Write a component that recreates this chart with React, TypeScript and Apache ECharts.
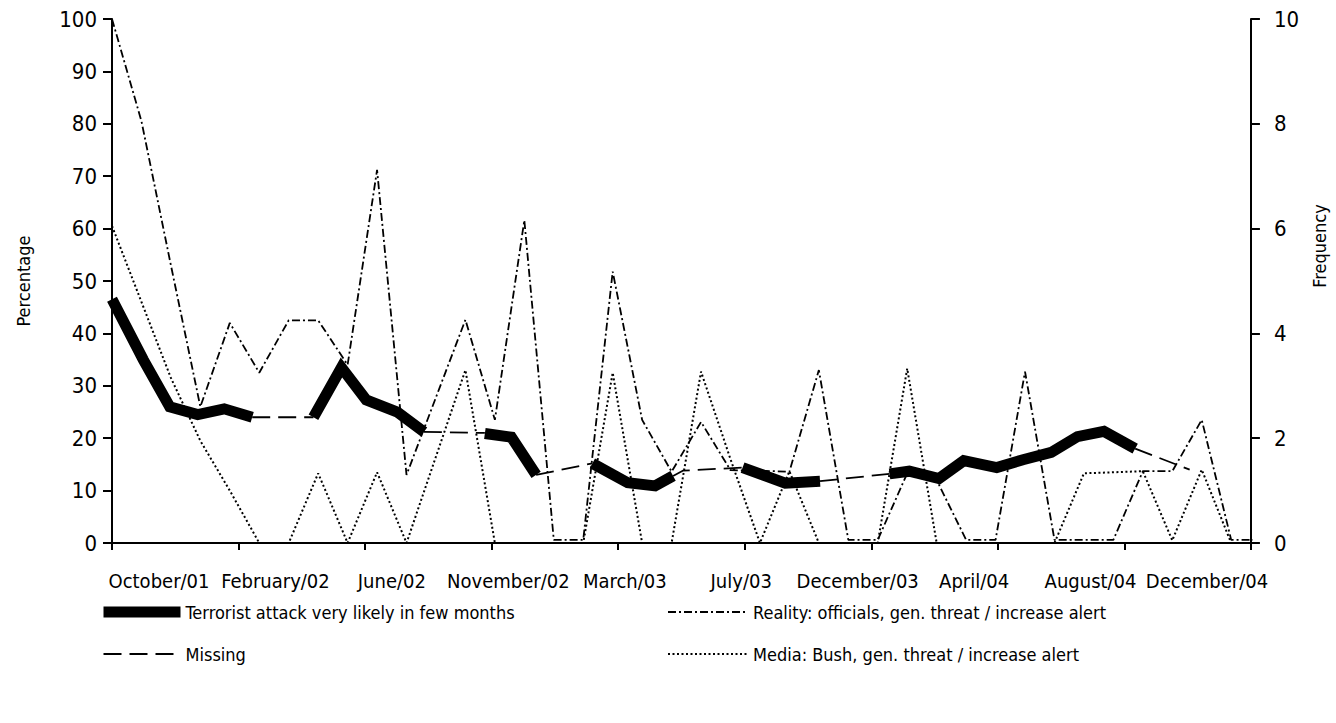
import React, { useEffect, useRef } from "react";
import * as echarts from "echarts";

// Category labels of the time axis
const xLabels = [
  "October/01", "February/02", "June/02", "November/02", "March/03",
  "July/03", "December/03", "April/04", "August/04", "December/04",
];

// Monthly frequencies (right axis); month index 0 = October 2001
const realityFreq = [
  10, 8.05, 5.3, 2.6, 4.2, 3.25, 4.25, 4.25, 3.4, 7.12,
  1.3, 2.78, 4.26, 2.35, 6.16, 0.06, 0.06, 5.18, 2.35, 1.36,
  2.31, 1.39, 1.38, 1.36, 3.3, 0.06, 0.06, 1.33, 1.2, 0.06,
  0.06, 3.27, 0.06, 0.06, 0.06, 1.37, 1.37, 2.35, 0.06, 0.06,
];
const mediaFreq = [
  6.05, 4.6, 3.15, 1.95, 1.0, 0, 0, 1.33, 0, 1.35,
  0, 1.65, 3.3, 0, 0, 0, 0, 3.25, 0, 0,
  3.27, 1.6, 0, 1.37, 0, 0, 0, 3.33, 0, 0,
  0, 0, 0, 1.33, 1.35, 1.37, 0.05, 1.4, 0, 0,
];

// Survey results (left axis); x = months since October 2001, null = no survey
const terroristMonths = [
  0, 1.06, 1.96, 2.91, 3.81, 4.76, 5.8, 6.84, 7.79, 8.63, 9.69, 10.59, 11.6,
  12.66, 13.56, 14.4, 15.3, 16.31, 17.51, 18.44, 19.05, 20.2, 21.41, 22.86,
  24.04, 25.2, 26.4, 27.07, 28.08, 28.92, 30.04, 30.93, 31.89, 32.78, 33.68, 34.74,
];
const terroristPct = [
  46.5, 35, 26, 24.5, 25.6, 24, null, 24, 33.5, 27.3, 25, 21.2, null,
  20.9, 20.2, 13, null, 15.2, 11.5, 10.9, 12.8, null, 14.4, 11.4,
  11.8, null, 13.2, 13.7, 12.3, 15.7, 14.4, 15.9, 17.3, 20.3, 21.3, 18.0,
];

// "Missing" bridges between surveys
const missingMonths = [
  4.76, 6.84, 8.0, 10.59, 12.66, 13.5, 14.4, 16.31, 17.5, 19.05, 19.38, 21.41,
  22.5, 24.04, 26.4, 30.0, 34.74, 36.59,
];
const missingPct = [
  24, 24, null, 21.2, 21.0, null, 13, 15.2, null, 12.8, 13.8, 14.4,
  null, 11.8, 13.2, null, 18.0, 14.0,
];

const X_MAX = 38.67;
const FONT =
  '"Liberation Sans Narrow", "Arial Narrow", "DejaVu Sans Condensed", "Liberation Sans", sans-serif';

const NAME_T = "Terrorist attack very likely in few months";
const NAME_M = "Missing";
const NAME_R = "Reality: officials, gen. threat / increase alert";
const NAME_B = "Media: Bush, gen. threat / increase alert";

export default function App() {
  const ref = useRef<HTMLDivElement>(null);

  useEffect(() => {
    if (!ref.current) return;
    const chart = echarts.init(ref.current, null, { renderer: "svg" });
    const axisLine = { show: true, lineStyle: { color: "#000", width: 2 } };
    const pair = (xs: number[], ys: (number | null)[]) =>
      xs.map((x, i) => [x, ys[i] === null ? "-" : ys[i]]);
    const legendBase = {
      top: 603,
      orient: "vertical",
      itemHeight: 14,
      itemGap: 24,
      padding: 0,
      selectedMode: false,
      itemStyle: { color: "transparent", borderWidth: 0, opacity: 0 },
      lineStyle: { width: "inherit" },
      textStyle: { fontSize: 18, color: "#000", fontFamily: FONT },
    };

    const option: any = {
      animation: false,
      backgroundColor: "#fff",
      textStyle: { fontFamily: FONT, color: "#000" },
      grid: [
        { left: 112, right: 74, top: 19, bottom: 180 },
        { left: 159, right: 129, top: 19, bottom: 180 },
      ],
      xAxis: [
        {
          type: "value",
          gridIndex: 0,
          min: 0,
          max: X_MAX,
          interval: X_MAX / 9,
          axisLine,
          axisTick: { show: true, length: 7, lineStyle: { color: "#000", width: 2 } },
          axisLabel: { show: false },
          splitLine: { show: false },
        },
        {
          type: "category",
          gridIndex: 1,
          data: xLabels,
          boundaryGap: false,
          axisLine: { show: false },
          axisTick: { show: false },
          axisLabel: { interval: 0, fontSize: 20, color: "#000", margin: 28, fontFamily: FONT },
        },
      ],
      yAxis: [
        {
          type: "value",
          gridIndex: 0,
          min: 0,
          max: 100,
          interval: 10,
          name: "Percentage",
          nameLocation: "middle",
          nameRotate: 90,
          nameGap: 80,
          nameTextStyle: { fontSize: 18, color: "#000", fontFamily: FONT },
          axisLine,
          axisTick: { show: true, length: 9, lineStyle: { color: "#000", width: 2 } },
          axisLabel: { fontSize: 22, color: "#000", margin: 15, fontFamily: FONT },
          splitLine: { show: false },
        },
        {
          type: "value",
          gridIndex: 0,
          position: "right",
          min: 0,
          max: 10,
          interval: 2,
          name: "Frequency",
          nameLocation: "middle",
          nameRotate: 90,
          nameGap: 50,
          nameTextStyle: { fontSize: 18, color: "#000", fontFamily: FONT, padding: [0, 0, 0, 70] },
          axisLine,
          axisTick: { show: true, length: 9, lineStyle: { color: "#000", width: 2 } },
          axisLabel: { fontSize: 22, color: "#000", margin: 23, fontFamily: FONT },
          splitLine: { show: false },
        },
        { type: "value", gridIndex: 1, show: false, min: 0, max: 1 },
      ],
      legend: [
        { ...legendBase, left: 98, itemWidth: 77, data: [NAME_T, NAME_M] },
        { ...legendBase, left: 667, itemWidth: 80, data: [NAME_R, NAME_B] },
      ],
      series: [
        {
          name: NAME_R,
          type: "line",
          xAxisIndex: 0,
          yAxisIndex: 1,
          data: realityFreq.map((v, i) => [i, v]),
          symbol: "none",
          clip: true,
          z: 2,
          emphasis: { disabled: true },
          lineStyle: { color: "#000", width: 1.8, type: [8, 3, 2, 3] },
        },
        {
          name: NAME_B,
          type: "line",
          xAxisIndex: 0,
          yAxisIndex: 1,
          data: mediaFreq.map((v, i) => [i, v]),
          symbol: "none",
          clip: true,
          z: 2,
          emphasis: { disabled: true },
          lineStyle: { color: "#000", width: 2, type: [2, 2.5] },
        },
        {
          name: NAME_M,
          type: "line",
          xAxisIndex: 0,
          yAxisIndex: 0,
          data: pair(missingMonths, missingPct),
          symbol: "none",
          connectNulls: false,
          z: 3,
          emphasis: { disabled: true },
          lineStyle: { color: "#000", width: 1.8, type: [18, 8] },
        },
        {
          name: NAME_T,
          type: "line",
          xAxisIndex: 0,
          yAxisIndex: 0,
          data: pair(terroristMonths, terroristPct),
          symbol: "none",
          connectNulls: false,
          z: 4,
          emphasis: { disabled: true },
          lineStyle: { color: "#000", width: 11, cap: "butt", join: "miter" },
        },
      ],
    };
    chart.setOption(option);
    return () => chart.dispose();
  }, []);

  return (
    <div
      ref={ref}
      style={{ position: "fixed", left: 0, top: 0, width: 1336, height: 723, background: "#fff" }}
    />
  );
}
